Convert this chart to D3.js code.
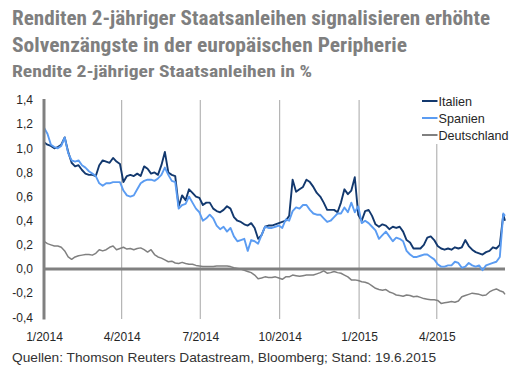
<!DOCTYPE html>
<html><head><meta charset="utf-8">
<script src="https://cdn.jsdelivr.net/npm/d3@7"></script>
<style>
html,body{margin:0;padding:0;background:#fff;}
svg{display:block;}
</style></head>
<body><svg id="chart" width="525" height="379"></svg>
<script>
const dates = ["2014-01-01","2014-01-05","2014-01-09","2014-01-13","2014-01-17","2014-01-21","2014-01-25","2014-01-29","2014-02-02","2014-02-06",
"2014-02-10","2014-02-14","2014-02-18","2014-02-22","2014-02-26","2014-03-02","2014-03-06","2014-03-10","2014-03-14","2014-03-18",
"2014-03-22","2014-03-26","2014-03-30","2014-04-03","2014-04-07","2014-04-11","2014-04-15","2014-04-19","2014-04-23","2014-04-27",
"2014-05-01","2014-05-05","2014-05-09","2014-05-13","2014-05-17","2014-05-21","2014-05-25","2014-05-29","2014-06-02","2014-06-06",
"2014-06-10","2014-06-14","2014-06-18","2014-06-22","2014-06-26","2014-06-30","2014-07-04","2014-07-08","2014-07-12","2014-07-16",
"2014-07-20","2014-07-24","2014-07-28","2014-08-01","2014-08-05","2014-08-09","2014-08-13","2014-08-17","2014-08-21","2014-08-25",
"2014-08-29","2014-09-02","2014-09-06","2014-09-10","2014-09-14","2014-09-18","2014-09-22","2014-09-26","2014-09-30","2014-10-04",
"2014-10-08","2014-10-12","2014-10-16","2014-10-20","2014-10-24","2014-10-28","2014-11-01","2014-11-05","2014-11-09","2014-11-13",
"2014-11-17","2014-11-21","2014-11-25","2014-11-29","2014-12-03","2014-12-07","2014-12-11","2014-12-15","2014-12-19","2014-12-23",
"2014-12-27","2014-12-31","2015-01-04","2015-01-08","2015-01-12","2015-01-16","2015-01-20","2015-01-24","2015-01-28","2015-02-01",
"2015-02-05","2015-02-09","2015-02-13","2015-02-17","2015-02-21","2015-02-25","2015-03-01","2015-03-05","2015-03-09","2015-03-13",
"2015-03-17","2015-03-21","2015-03-25","2015-03-29","2015-04-02","2015-04-06","2015-04-10","2015-04-14","2015-04-18","2015-04-22",
"2015-04-26","2015-04-30","2015-05-04","2015-05-08","2015-05-12","2015-05-16","2015-05-20","2015-05-24","2015-05-28","2015-06-01",
"2015-06-05","2015-06-09","2015-06-13","2015-06-17","2015-06-19"];

const italien = [1.05,1.03,1.02,1.00,1.01,1.03,1.09,0.97,0.88,0.85,
0.86,0.82,0.79,0.78,0.78,0.77,0.86,0.90,0.89,0.88,
0.92,0.89,0.87,0.72,0.77,0.78,0.77,0.79,0.77,0.85,
0.83,0.79,0.80,0.78,0.86,0.97,0.80,0.78,0.77,0.52,
0.61,0.57,0.66,0.63,0.60,0.59,0.53,0.55,0.55,0.50,
0.48,0.47,0.49,0.52,0.50,0.43,0.40,0.39,0.37,0.36,
0.38,0.34,0.25,0.28,0.35,0.36,0.36,0.37,0.38,0.39,
0.40,0.44,0.74,0.64,0.66,0.68,0.74,0.72,0.68,0.63,
0.60,0.55,0.49,0.49,0.49,0.47,0.55,0.66,0.62,0.65,
0.76,0.45,0.40,0.48,0.49,0.44,0.37,0.35,0.37,0.36,
0.33,0.35,0.34,0.35,0.31,0.24,0.22,0.17,0.17,0.17,
0.20,0.26,0.27,0.24,0.19,0.17,0.16,0.17,0.16,0.18,
0.17,0.18,0.24,0.19,0.16,0.14,0.13,0.12,0.14,0.15,
0.18,0.17,0.20,0.45,0.40];

const spanien = [1.17,1.12,1.03,1.01,1.00,1.02,1.09,0.96,0.90,0.89,
0.90,0.86,0.84,0.81,0.79,0.77,0.71,0.69,0.71,0.71,
0.72,0.72,0.72,0.65,0.61,0.60,0.61,0.66,0.71,0.73,
0.74,0.74,0.73,0.75,0.78,0.84,0.78,0.73,0.72,0.50,
0.53,0.54,0.60,0.55,0.50,0.47,0.40,0.42,0.45,0.42,
0.36,0.33,0.35,0.31,0.34,0.27,0.23,0.24,0.25,0.15,
0.24,0.23,0.21,0.28,0.35,0.34,0.34,0.35,0.36,0.34,
0.41,0.40,0.48,0.51,0.50,0.53,0.53,0.49,0.46,0.45,
0.45,0.42,0.39,0.40,0.43,0.46,0.46,0.51,0.47,0.55,
0.47,0.52,0.38,0.40,0.38,0.35,0.32,0.25,0.28,0.31,
0.27,0.23,0.26,0.25,0.23,0.15,0.12,0.10,0.10,0.11,
0.12,0.12,0.10,0.08,0.04,0.02,0.02,0.03,0.03,0.06,
0.05,0.01,0.02,0.05,0.03,0.02,0.03,-0.01,0.03,0.04,
0.05,0.06,0.10,0.46,0.44];

const deutschland = [0.23,0.21,0.20,0.19,0.19,0.18,0.15,0.10,0.08,0.10,
0.11,0.115,0.12,0.12,0.115,0.13,0.16,0.15,0.16,0.18,
0.19,0.16,0.17,0.18,0.165,0.17,0.16,0.17,0.175,0.16,
0.14,0.16,0.12,0.10,0.09,0.075,0.06,0.065,0.05,0.045,
0.055,0.045,0.04,0.04,0.03,0.025,0.02,0.02,0.02,0.02,
0.025,0.025,0.025,0.025,0.02,0.01,0.005,0.0,-0.01,-0.02,
-0.03,-0.05,-0.08,-0.075,-0.065,-0.07,-0.07,-0.065,-0.075,-0.085,
-0.065,-0.065,-0.05,-0.055,-0.06,-0.055,-0.05,-0.05,-0.05,-0.04,
-0.03,-0.015,-0.035,-0.03,-0.02,-0.03,-0.035,-0.05,-0.065,-0.09,
-0.09,-0.095,-0.105,-0.11,-0.12,-0.14,-0.16,-0.17,-0.175,-0.17,
-0.19,-0.2,-0.215,-0.22,-0.225,-0.215,-0.22,-0.23,-0.225,-0.235,
-0.245,-0.25,-0.255,-0.255,-0.26,-0.285,-0.28,-0.275,-0.27,-0.275,
-0.265,-0.23,-0.22,-0.21,-0.2,-0.205,-0.21,-0.22,-0.215,-0.19,
-0.175,-0.165,-0.18,-0.19,-0.21];

const seriesNames = ["Italien","Spanien","Deutschland"];
const yTicks = [-0.4,-0.2,0,0.2,0.4,0.6,0.8,1.0,1.2,1.4];
const xTickDates = ["2014-01-01","2014-04-01","2014-07-01","2014-10-01","2015-01-01","2015-04-01"];
const xTickLabels = ["1/2014","4/2014","7/2014","10/2014","1/2015","4/2015"];
const titleLines = ["Renditen 2-jähriger Staatsanleihen signalisieren erhöhte","Solvenzängste in der europäischen Peripherie"];
const subtitle = "Rendite 2-jähriger Staatsanleihen in %";
const source = "Quellen: Thomson Reuters Datastream, Bloomberg; Stand: 19.6.2015";

const parse = d3.utcParse("%Y-%m-%d");
const colors = {Italien:"#12386e", Spanien:"#5b9cf2", Deutschland:"#808080"};
const widths = {Italien:1.9, Spanien:1.9, Deutschland:1.5};

const svg = d3.select("#chart");
const condensed = "'Liberation Sans Narrow','Roboto Condensed','DejaVu Sans Condensed','Arial Narrow',sans-serif";
const sans = "'Liberation Sans',Arial,Helvetica,sans-serif";

// titles
const tl = [{t:titleLines[0],y:25,s:19.5,w:478},{t:titleLines[1],y:52.3,s:19.5,w:395},{t:subtitle,y:77.3,s:16,w:300}];
tl.forEach(o=>{
  svg.append("text").attr("x",12).attr("y",o.y).text(o.t)
    .attr("font-family",condensed).attr("font-weight","bold").attr("font-size",o.s)
    .attr("fill","#7f7f7f").attr("textLength",o.w).attr("lengthAdjust","spacingAndGlyphs");
});

const x = d3.scaleUtc().domain([parse("2014-01-01"), parse("2015-06-19")]).range([44,505]);
const y = d3.scaleLinear().domain([-0.4,1.4]).range([317.3,100]);

// vertical gridlines
svg.append("g").selectAll("line").data(xTickDates.slice(1)).join("line")
  .attr("x1",d=>x(parse(d))).attr("x2",d=>x(parse(d)))
  .attr("y1",100).attr("y2",319)
  .attr("stroke","#a6a6a6").attr("stroke-width",1);

// zero line
svg.append("line").attr("x1",44).attr("x2",505).attr("y1",y(0)).attr("y2",y(0))
  .attr("stroke","#808080").attr("stroke-width",3);

// series
const locale = d3.formatLocale({decimal:",",thousands:".",grouping:[3],currency:["","€"],minus:"-"});
const fmt = locale.format(".1f");
const seriesData = {Italien:italien, Spanien:spanien, Deutschland:deutschland};
const line = d3.line().x(d=>x(d.date)).y(d=>y(d.v));
["Deutschland","Italien","Spanien"].forEach(name=>{
  const pts = dates.map((d,i)=>({date:parse(d), v:seriesData[name][i]}));
  svg.append("path").datum(pts).attr("d",line).attr("fill","none")
    .attr("stroke",colors[name]).attr("stroke-width",widths[name]).attr("stroke-linejoin","round");
});

// y axis
const yAxis = d3.axisLeft(y).tickValues(yTicks).tickFormat(d=>fmt(d)).tickSize(0).tickPadding(11);
const gy = svg.append("g").attr("transform","translate(44,0)").call(yAxis);
gy.select(".domain").remove();
gy.selectAll("text").attr("font-family",sans).attr("font-size",12).attr("fill","#262626");
svg.append("line").attr("x1",44).attr("x2",44).attr("y1",99).attr("y2",319.5)
  .attr("stroke","#808080").attr("stroke-width",3);

// x axis
const xAxis = d3.axisBottom(x).tickValues(xTickDates.map(parse)).tickFormat((d,i)=>xTickLabels[i]).tickSize(0).tickPadding(13);
const gx = svg.append("g").attr("transform","translate(0,319)").call(xAxis);
gx.select(".domain").remove();
gx.selectAll("text").attr("font-family",sans).attr("font-size",12).attr("fill","#262626");

// legend
const lg = svg.append("g");
lg.append("rect").attr("x",419).attr("y",92).attr("width",96).attr("height",52).attr("fill","#fff");
seriesNames.forEach((name,i)=>{
  const yy = 101 + i*17;
  lg.append("line").attr("x1",422).attr("x2",437.5).attr("y1",yy).attr("y2",yy)
    .attr("stroke",colors[name]).attr("stroke-width",2);
  lg.append("text").attr("x",438.5).attr("y",yy+4.5).text(name)
    .attr("font-family",sans).attr("font-size",12.6).attr("fill","#262626");
});

// source
svg.append("text").attr("x",12).attr("y",362).text(source)
  .attr("font-family",sans).attr("font-size",13).attr("fill","#333")
  .attr("textLength",424).attr("lengthAdjust","spacingAndGlyphs");
</script>
</body></html>
